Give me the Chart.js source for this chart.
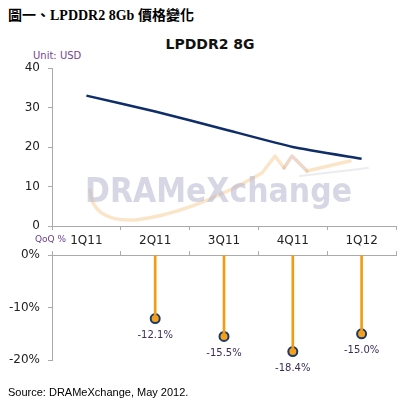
<!DOCTYPE html>
<html>
<head>
<meta charset="utf-8">
<script src="https://cdn.jsdelivr.net/npm/chart.js@4.4.0/dist/chart.umd.min.js"></script>
<style>
  body { margin: 0; background: #fff; width: 420px; height: 414px; position: relative; overflow: hidden; }
  .abs { position: absolute; white-space: nowrap; }
  #head { left: 8px; top: 4px; font: bold 14px "Liberation Serif", "Noto Sans CJK TC", serif; color: #000; }
  #title { left: 0; width: 420px; text-align: center; top: 36px; font: bold 14px "DejaVu Sans", sans-serif; color: #111; }
  #unit { left: 33px; top: 50px; font: 10px "DejaVu Sans", sans-serif; color: #7b3f8e; }
  #qoq { left: 35px; top: 234px; font: 9px "DejaVu Sans", sans-serif; color: #6b3f8e; }
  #src { left: 8px; top: 386px; font: 11px "Liberation Sans", Arial, sans-serif; color: #000; }
  #box1 { left: 0; top: 0; width: 420px; height: 262px; }
  #box2 { left: 0; top: 240px; width: 420px; height: 140px; }
</style>
</head>
<body>
<div class="abs" id="head">圖一、LPDDR2 8Gb 價格變化</div>
<div class="abs" id="title">LPDDR2 8G</div>
<div class="abs" id="unit">Unit: USD</div>
<div class="abs" id="box1"><canvas id="priceChart"></canvas></div>
<div class="abs" id="box2"><canvas id="qoqChart"></canvas></div>
<div class="abs" id="qoq">QoQ %</div>
<div class="abs" id="src">Source: DRAMeXchange, May 2012.</div>
<script>
// data
var quarters = ['1Q11', '2Q11', '3Q11', '4Q11', '1Q12'];
var priceUsd = [33, 29, 24.5, 20, 17];
var qoqPct = [null, -12.1, -15.5, -18.4, -15.0];

var axisGray = '#aaaaaa';
var tickFont = { family: 'DejaVu Sans', size: 12 };

// faint logo behind the price line
var watermark = {
    id: 'watermark',
    beforeDatasetsDraw: function (chart) {
        var ctx = chart.ctx;
        ctx.save();
        ctx.lineCap = 'round';
        ctx.lineJoin = 'round';
        // grey shadow under the arrow
        ctx.strokeStyle = 'rgba(200,200,210,0.35)';
        ctx.lineWidth = 2;
        ctx.beginPath();
        ctx.moveTo(300, 176);
        ctx.lineTo(368, 168);
        ctx.stroke();
        // swoosh
        ctx.strokeStyle = 'rgba(245,190,120,0.4)';
        ctx.lineWidth = 3.5;
        ctx.beginPath();
        ctx.moveTo(90, 190);
        ctx.quadraticCurveTo(92, 222, 135, 220);
        ctx.quadraticCurveTo(190, 214, 262, 173);
        ctx.lineTo(275, 156);
        ctx.lineTo(284, 168);
        ctx.stroke();
        ctx.strokeStyle = 'rgba(215,170,140,0.45)';
        ctx.beginPath();
        ctx.moveTo(284, 168);
        ctx.lineTo(292, 156);
        ctx.lineTo(307, 171);
        ctx.stroke();
        ctx.strokeStyle = 'rgba(245,190,120,0.4)';
        ctx.beginPath();
        ctx.moveTo(307, 171);
        ctx.lineTo(350, 161);
        ctx.stroke();
        ctx.font = 'bold 34px "DejaVu Sans"';
        ctx.fillStyle = 'rgba(180,180,208,0.55)';
        ctx.fillText('DRAMeXchange', 85, 202, 267);
        ctx.restore();
    }
};

var priceChart = new Chart(document.getElementById('priceChart'), {
    type: 'line',
    data: {
        labels: quarters,
        datasets: [{
            data: priceUsd,
            borderColor: '#0f2d69',
            borderWidth: 2.5,
            pointRadius: 0,
            tension: 0.15,
            fill: false
        }]
    },
    options: {
        responsive: true,
        maintainAspectRatio: false,
        animation: false,
        layout: { padding: { top: 68, right: 24, left: 0, bottom: 0 } },
        plugins: { legend: { display: false }, tooltip: { enabled: false } },
        scales: {
            x: {
                offset: true,
                grid: { offset: true, drawOnChartArea: false, color: axisGray, tickLength: 4 },
                border: { color: axisGray },
                ticks: { color: '#222', font: tickFont, padding: 4, maxRotation: 0 },
                afterFit: function (s) { s.height = 36; }
            },
            y: {
                min: 0, max: 40,
                grid: { drawOnChartArea: false, color: axisGray, tickLength: 4 },
                border: { color: axisGray },
                ticks: { stepSize: 10, color: '#222', font: tickFont, padding: 8 },
                afterFit: function (s) { s.width = 52; }
            }
        }
    },
    plugins: [watermark]
});

// value labels under the lollipop heads
var pctLabels = {
    id: 'pctLabels',
    afterDatasetsDraw: function (chart) {
        var ctx = chart.ctx;
        var meta = chart.getDatasetMeta(1);
        ctx.save();
        ctx.font = '10px "DejaVu Sans"';
        ctx.fillStyle = '#3b2d5c';
        ctx.textAlign = 'center';
        ctx.textBaseline = 'middle';
        meta.data.forEach(function (pt, i) {
            if (qoqPct[i] == null) return;
            ctx.fillText(qoqPct[i].toFixed(1) + '%', pt.x, pt.y + 17);
        });
        ctx.restore();
    }
};

var qoqChart = new Chart(document.getElementById('qoqChart'), {
    type: 'bar',
    data: {
        labels: quarters,
        datasets: [{
            type: 'bar',
            data: qoqPct,
            backgroundColor: '#f39c12',
            barThickness: 2
        }, {
            type: 'line',
            data: qoqPct,
            showLine: false,
            pointRadius: 4.5,
            pointBackgroundColor: '#f7a21b',
            pointBorderColor: '#1b3a6b',
            pointBorderWidth: 2
        }]
    },
    options: {
        responsive: true,
        maintainAspectRatio: false,
        animation: false,
        layout: { padding: { top: 0, right: 24, left: 0, bottom: 20 } },
        plugins: { legend: { display: false }, tooltip: { enabled: false } },
        scales: {
            x: {
                position: 'top',
                offset: true,
                grid: { offset: true, drawOnChartArea: false, color: axisGray, tickLength: 4 },
                border: { color: axisGray },
                ticks: { display: false },
                afterFit: function (s) { s.height = 14; }
            },
            y: {
                min: -20, max: 0,
                grid: { drawOnChartArea: false, color: axisGray, tickLength: 4 },
                border: { color: axisGray },
                ticks: {
                    stepSize: 10, color: '#222', font: tickFont, padding: 8,
                    callback: function (v) { return v + '%'; }
                },
                afterFit: function (s) { s.width = 52; }
            }
        }
    },
    plugins: [pctLabels]
});
</script>
</body>
</html>
